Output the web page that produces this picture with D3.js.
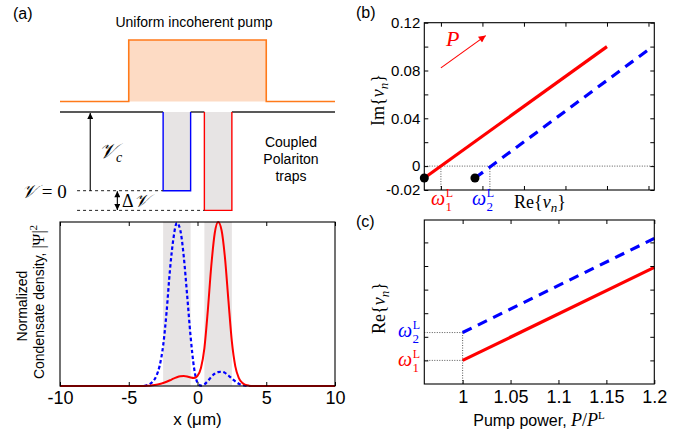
<!DOCTYPE html>
<html><head><meta charset="utf-8">
<script src="https://cdn.jsdelivr.net/npm/d3@7"></script>
<style>
body{margin:0;background:#fff;}
svg{display:block;}
.sans{font-family:"Liberation Sans",Arial,Helvetica,sans-serif;}
.serif{font-family:"Liberation Serif","Times New Roman",serif;}
</style></head><body>
<svg id="chart" width="685" height="433"></svg>
<script>
// ---------- Panel (a) data ----------
const xGrid = [-10,-4,-3.75,-3.5,-3.25,-3,-2.75,-2.5,-2.25,-2,-1.75,-1.5,-1.25,-1,-0.75,-0.5,-0.25,0,0.25,0.5,0.75,1,1.25,1.5,1.75,2,2.25,2.5,2.75,3,3.25,3.5,3.75,4,10];
const densityBlue = [0,0,0.003,0.01,0.027,0.06,0.125,0.245,0.45,0.71,0.9,0.995,0.95,0.79,0.55,0.3,0.11,0.02,0.002,0.01,0.03,0.055,0.075,0.085,0.087,0.08,0.064,0.045,0.028,0.014,0.006,0.002,0,0,0];
const densityRed  = [0,0,0.001,0.002,0.004,0.007,0.012,0.018,0.026,0.035,0.045,0.053,0.059,0.061,0.058,0.052,0.049,0.062,0.11,0.23,0.46,0.73,0.93,1.0,0.95,0.78,0.52,0.27,0.12,0.05,0.02,0.007,0.002,0,0];
const trapLeft = [-2.5,-0.5];
const trapRight = [0.5,2.5];
const pumpEdges = [-5,5];
const xTicksA = [-10,-5,0,5,10];
const Vc = 1, dV = 0.25;

// ---------- Panel (b) data ----------
const reB_red = [0.006,0.05],  imB_red = [-0.01,0.1];
const reB_blue = [0.0182,0.061], imB_blue = [-0.01,0.1];
const omegaL = [0.01,0.0218];
const imTicks = [-0.02,0,0.02,0.04,0.06,0.08,0.1,0.12];
const imTickLabels = ["-0.02","0","","0.04","","0.08","","0.12"];
const reTicksB = [0.01,0.02,0.03,0.04,0.05,0.06];

// ---------- Panel (c) data ----------
const pumpPower = [1,1.2];
const reC_red = [0.01,0.0494];
const reC_blue = [0.0218,0.0617];
const pumpTicks = [1,1.05,1.1,1.15,1.2];
const pumpTickLabels = ["1","1.05","1.1","1.15","1.2"];
const reTicksC = [0.01,0.02,0.03,0.04,0.05,0.06];

const RED="#ff0000", BLUE="#0000ff", ORANGE="#ff7a1a", PEACH="#fddbc4", GRAY="#e7e4e4";
const svg = d3.select("#chart");
const defs = svg.append("defs");
function marker(id,color,w,h){
  defs.append("marker").attr("id",id).attr("viewBox","0 0 10 10").attr("refX",10).attr("refY",5)
    .attr("markerWidth",w).attr("markerHeight",h).attr("orient","auto-start-reverse").attr("markerUnits","userSpaceOnUse")
    .append("path").attr("d","M0,0 L10,5 L0,10 Z").attr("fill",color);
}
marker("arrK","#000",8,6);
marker("arrR",RED,10,7);

// ================= Panel (a) =================
const xA = d3.scaleLinear().domain([-10,10]).range([60,335]);
const yA = d3.scaleLinear().domain([0,1]).range([386,222]);
const yPump = d3.scaleLinear().domain([0,1]).range([101.5,40]);
const yPot = d3.scaleLinear().domain([0,1]).range([190.7,112]);
const gA = svg.append("g");

// pump
const pumpProfile = [[-10,0],[pumpEdges[0],0],[pumpEdges[0],1],[pumpEdges[1],1],[pumpEdges[1],0],[10,0]];
gA.append("rect").attr("x",xA(pumpEdges[0])).attr("y",yPump(1)).attr("width",xA(pumpEdges[1])-xA(pumpEdges[0])).attr("height",yPump(0)-yPump(1)).attr("fill",PEACH);
gA.append("path").attr("d",d3.line().x(d=>xA(d[0])).y(d=>yPump(d[1]))(pumpProfile)).attr("fill","none").attr("stroke",ORANGE).attr("stroke-width",1.6);

// trap fills (schematic)
gA.append("rect").attr("x",xA(trapLeft[0])).attr("y",yPot(Vc)).attr("width",xA(trapLeft[1])-xA(trapLeft[0])).attr("height",yPot(0)-yPot(Vc)).attr("fill",GRAY);
gA.append("rect").attr("x",xA(trapRight[0])).attr("y",yPot(Vc)).attr("width",xA(trapRight[1])-xA(trapRight[0])).attr("height",yPot(-dV)-yPot(Vc)).attr("fill",GRAY);

const potLine = d3.line().x(d=>xA(d[0])).y(d=>yPot(d[1]));
[[[-10,Vc],[trapLeft[0],Vc]],[[trapLeft[1],Vc],[trapRight[0],Vc]],[[trapRight[1],Vc],[10,Vc]]].forEach(seg=>{
  gA.append("path").attr("d",potLine(seg)).attr("fill","none").attr("stroke","#222").attr("stroke-width",1.4);
});
gA.append("path").attr("d",potLine([[trapLeft[0],Vc],[trapLeft[0],0],[trapLeft[1],0],[trapLeft[1],Vc]])).attr("fill","none").attr("stroke",BLUE).attr("stroke-width",1.4);
gA.append("path").attr("d",potLine([[trapRight[0],Vc],[trapRight[0],-dV],[trapRight[1],-dV],[trapRight[1],Vc]])).attr("fill","none").attr("stroke",RED).attr("stroke-width",1.4);

// dashed references
gA.append("path").attr("d",potLine([[-8.76,0],[trapLeft[0],0]])).attr("stroke","#222").attr("stroke-width",1).attr("stroke-dasharray","3,3");
gA.append("path").attr("d",potLine([[-8.76,-dV],[trapRight[0],-dV]])).attr("stroke","#222").attr("stroke-width",1).attr("stroke-dasharray","3,3");
// arrows
gA.append("line").attr("x1",xA(-7.8)).attr("x2",xA(-7.8)).attr("y1",yPot(0)).attr("y2",yPot(Vc)+1).attr("stroke","#000").attr("stroke-width",1.1).attr("marker-end","url(#arrK)");
gA.append("line").attr("x1",xA(-5.83)).attr("x2",xA(-5.83)).attr("y1",yPot(0)+0.5).attr("y2",yPot(-dV)-0.5).attr("stroke","#000").attr("stroke-width",1.1).attr("marker-start","url(#arrK)").attr("marker-end","url(#arrK)");

// labels
svg.append("text").attr("class","sans").attr("x",13).attr("y",19).attr("font-size",16).text("(a)");
svg.append("text").attr("class","sans").attr("x",194).attr("y",27).attr("font-size",14).attr("text-anchor","middle").text("Uniform incoherent pump");
["Coupled","Polariton","traps"].forEach((t,i)=>{
  svg.append("text").attr("class","sans").attr("x",291).attr("y",147+i*17).attr("font-size",14).attr("text-anchor","middle").text(t);
});
const vcT = svg.append("text").attr("class","serif").attr("x",99).attr("y",158).attr("font-size",21);
vcT.append("tspan").attr("font-style","italic").text("𝒱");
vcT.append("tspan").attr("font-style","italic").attr("font-size",14).attr("dy",4).text("c");
const v0T = svg.append("text").attr("class","serif").attr("x",21).attr("y",198).attr("font-size",19);
v0T.append("tspan").attr("font-style","italic").text("𝒱");
v0T.append("tspan").text(" = 0");
const dvT = svg.append("text").attr("class","serif").attr("x",122).attr("y",207).attr("font-size",18);
dvT.append("tspan").text("Δ");
dvT.append("tspan").attr("font-style","italic").text("𝒱");

// density plot
[trapLeft,trapRight].forEach(t=>{
  gA.append("rect").attr("x",xA(t[0])).attr("y",yA(1)).attr("width",xA(t[1])-xA(t[0])).attr("height",yA(0)-yA(1)).attr("fill",GRAY);
});
const dLine = d3.line().x((d,i)=>xA(xGrid[i])).y(d=>yA(d)).curve(d3.curveMonotoneX);
gA.append("path").attr("d",dLine(densityBlue)).attr("fill","none").attr("stroke",BLUE).attr("stroke-width",2.2).attr("stroke-dasharray","3.5,2.5");
gA.append("path").attr("d",dLine(densityRed)).attr("fill","none").attr("stroke",RED).attr("stroke-width",2);
gA.append("rect").attr("x",60).attr("y",222).attr("width",275).attr("height",164).attr("fill","none").attr("stroke","#000").attr("stroke-width",1.1);

const axA = gA.append("g").attr("transform","translate(0,386)").attr("class","sans")
  .call(d3.axisBottom(xA).tickValues(xTicksA).tickSize(-4).tickPadding(5).tickFormat(d=>String(d)));
axA.select(".domain").remove();
axA.selectAll("text").attr("font-size",18).attr("font-family","Liberation Sans, Arial, sans-serif");
const axAt = gA.append("g").attr("transform","translate(0,222)")
  .call(d3.axisTop(xA).tickValues(xTicksA).tickSize(-4).tickFormat(""));
axAt.select(".domain").remove();

svg.append("text").attr("class","sans").attr("x",197.5).attr("y",425).attr("font-size",17).attr("text-anchor","middle").text("x (μm)");
svg.append("text").attr("class","sans").attr("transform","translate(27,306) rotate(-90)").attr("font-size",14).attr("text-anchor","middle").text("Normalized");
const cdT = svg.append("text").attr("class","sans").attr("transform","translate(44,302) rotate(-90)").attr("font-size",14).attr("text-anchor","middle");
cdT.append("tspan").text("Condensate density, ");
cdT.append("tspan").attr("font-family","Liberation Serif, serif").attr("font-size",16).text("|Ψ|");
cdT.append("tspan").attr("font-family","Liberation Serif, serif").attr("font-size",11).attr("dy",-7).text("2");

// ================= Panel (b) =================
const xB = d3.scaleLinear().domain([0.006,0.0614]).range([424.3,654.3]);
const yB = d3.scaleLinear().domain([-0.02,0.12]).range([190,22.7]);
const gB = svg.append("g");
gB.append("line").attr("x1",xB.range()[0]).attr("x2",xB.range()[1]).attr("y1",yB(0)).attr("y2",yB(0)).attr("stroke","#555").attr("stroke-width",1).attr("stroke-dasharray","1,1.5");
omegaL.forEach(w=>{
  gB.append("line").attr("x1",xB(w)).attr("x2",xB(w)).attr("y1",yB(0)).attr("y2",yB(-0.02)).attr("stroke","#555").attr("stroke-width",1).attr("stroke-dasharray","1,1.5");
});
const bLine = d3.line().x(d=>xB(d[0])).y(d=>yB(d[1]));
gB.append("path").attr("d",bLine(d3.zip(reB_red,imB_red))).attr("stroke",RED).attr("stroke-width",3.2).attr("fill","none");
gB.append("path").attr("d",bLine(d3.zip(reB_blue,imB_blue))).attr("stroke",BLUE).attr("stroke-width",3.2).attr("fill","none").attr("stroke-dasharray","10,7");
gB.append("circle").attr("cx",xB(reB_red[0])).attr("cy",yB(imB_red[0])).attr("r",4.5).attr("fill","#000");
gB.append("circle").attr("cx",xB(reB_blue[0])).attr("cy",yB(imB_blue[0])).attr("r",4.5).attr("fill","#000");
gB.append("rect").attr("x",424.3).attr("y",22.7).attr("width",230).attr("height",190-22.7).attr("fill","none").attr("stroke","#000").attr("stroke-width",1.1);
gB.append("line").attr("x1",xB(0.01)).attr("y1",yB(0.0822)).attr("x2",xB(0.0208)).attr("y2",yB(0.1092)).attr("stroke",RED).attr("stroke-width",1.1).attr("marker-end","url(#arrR)");
svg.append("text").attr("class","serif").attr("x",446).attr("y",46).attr("font-size",22).attr("font-style","italic").attr("fill",RED).text("P");

const ayB = gB.append("g").attr("transform","translate(424.3,0)").attr("class","sans")
  .call(d3.axisLeft(yB).tickValues(imTicks).tickSize(-4).tickPadding(4).tickFormat((d,i)=>imTickLabels[i]));
ayB.select(".domain").remove();
ayB.selectAll("text").attr("font-size",15).attr("font-family","Liberation Sans, Arial, sans-serif");
const ayB2 = gB.append("g").attr("transform","translate(654.3,0)").call(d3.axisRight(yB).tickValues(imTicks).tickSize(-4).tickFormat(""));
ayB2.select(".domain").remove();
const axB = gB.append("g").attr("transform","translate(0,190)").call(d3.axisBottom(xB).tickValues(reTicksB).tickSize(-4).tickFormat(""));
axB.select(".domain").remove();
const axB2 = gB.append("g").attr("transform","translate(0,22.7)").call(d3.axisTop(xB).tickValues(reTicksB).tickSize(-4).tickFormat(""));
axB2.select(".domain").remove();

svg.append("text").attr("class","sans").attr("x",356).attr("y",18).attr("font-size",16).text("(b)");
function nuLabel(sel,head){
  sel.append("tspan").text(head+"{");
  sel.append("tspan").attr("font-style","italic").text("ν");
  sel.append("tspan").attr("font-style","italic").attr("font-size",13).attr("dy",4).text("n");
  sel.append("tspan").attr("dy",-4).text("}");
}
nuLabel(svg.append("text").attr("class","serif").attr("transform","translate(384,100) rotate(-90)").attr("font-size",18).attr("text-anchor","middle"),"Im");
nuLabel(svg.append("text").attr("class","serif").attr("x",540).attr("y",208).attr("font-size",18).attr("text-anchor","middle"),"Re");

function omegaLabel(x,y,idx,color){
  const t = svg.append("text").attr("class","serif").attr("x",x).attr("y",y).attr("font-size",20).attr("fill",color);
  t.append("tspan").attr("font-style","italic").text("ω");
  t.append("tspan").attr("font-size",12).attr("dy",-8).attr("dx",0.5).text("L");
  t.append("tspan").attr("font-size",13).attr("dy",14).attr("dx",-7.5).text(String(idx));
}
omegaLabel(431,205,1,RED);
omegaLabel(472,205,2,BLUE);

// ================= Panel (c) =================
const xC = d3.scaleLinear().domain([0.96,1.2]).range([424.3,654.3]);
const yC = d3.scaleLinear().domain([0,0.0695]).range([384,220]);
const gC = svg.append("g");
omegaL.forEach(w=>{
  gC.append("line").attr("x1",xC.range()[0]).attr("x2",xC(1)).attr("y1",yC(w)).attr("y2",yC(w)).attr("stroke","#555").attr("stroke-width",1).attr("stroke-dasharray","1,1.5");
});
gC.append("line").attr("x1",xC(1)).attr("x2",xC(1)).attr("y1",yC(omegaL[1])).attr("y2",yC(0)).attr("stroke","#555").attr("stroke-width",1).attr("stroke-dasharray","1,1.5");
const cLine = d3.line().x(d=>xC(d[0])).y(d=>yC(d[1]));
gC.append("path").attr("d",cLine(d3.zip(pumpPower,reC_red))).attr("stroke",RED).attr("stroke-width",3.2).attr("fill","none");
gC.append("path").attr("d",cLine(d3.zip(pumpPower,reC_blue))).attr("stroke",BLUE).attr("stroke-width",3.2).attr("fill","none").attr("stroke-dasharray","10,7");
gC.append("rect").attr("x",424.3).attr("y",220).attr("width",230).attr("height",164).attr("fill","none").attr("stroke","#000").attr("stroke-width",1.1);

const axC = gC.append("g").attr("transform","translate(0,384)").attr("class","sans")
  .call(d3.axisBottom(xC).tickValues(pumpTicks).tickSize(-4).tickPadding(6).tickFormat((d,i)=>pumpTickLabels[i]));
axC.select(".domain").remove();
axC.selectAll("text").attr("font-size",18).attr("font-family","Liberation Sans, Arial, sans-serif");
const axC2 = gC.append("g").attr("transform","translate(0,220)").call(d3.axisTop(xC).tickValues(pumpTicks).tickSize(-4).tickFormat(""));
axC2.select(".domain").remove();
const ayC = gC.append("g").attr("transform","translate(424.3,0)").call(d3.axisLeft(yC).tickValues(reTicksC).tickSize(-4).tickFormat(""));
ayC.select(".domain").remove();
const ayC2 = gC.append("g").attr("transform","translate(654.3,0)").call(d3.axisRight(yC).tickValues(reTicksC).tickSize(-4).tickFormat(""));
ayC2.select(".domain").remove();

svg.append("text").attr("class","sans").attr("x",356).attr("y",227).attr("font-size",16).text("(c)");
nuLabel(svg.append("text").attr("class","serif").attr("transform","translate(385,308) rotate(-90)").attr("font-size",18).attr("text-anchor","middle"),"Re");
omegaLabel(398,337,2,BLUE);
omegaLabel(398,366,1,RED);

const ppT = svg.append("text").attr("x",539).attr("y",426).attr("text-anchor","middle");
ppT.append("tspan").attr("class","sans").attr("font-size",16).text("Pump power, ");
ppT.append("tspan").attr("class","serif").attr("font-size",18).attr("font-style","italic").text("P");
ppT.append("tspan").attr("class","serif").attr("font-size",18).text("/");
ppT.append("tspan").attr("class","serif").attr("font-size",18).attr("font-style","italic").text("P");
ppT.append("tspan").attr("class","serif").attr("font-size",11).attr("dy",-7).text("L");
</script>
</body></html>
